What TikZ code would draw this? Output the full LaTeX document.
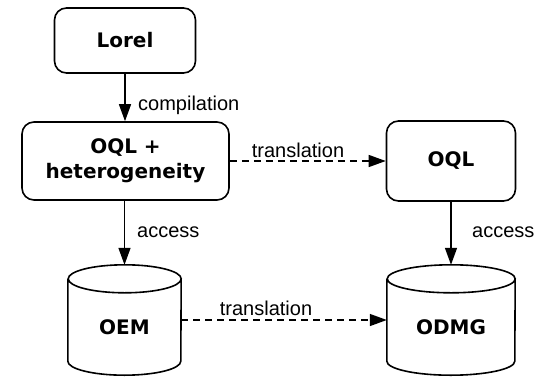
\documentclass[tikz,border=0pt]{standalone}
\usepackage{fontspec}
\setmainfont{Liberation Sans}
\newfontfamily\boxfont{DejaVu Sans}
\usetikzlibrary{arrows.meta}

\begin{document}
\begin{tikzpicture}[x=1pt,y=-1pt,
  box/.style={draw, line width=1.6pt, rounded corners=12pt, align=center, inner sep=0pt,
    font=\boxfont\bfseries\fontsize{20}{25}\selectfont},
  store/.style={inner sep=0pt, minimum height=96pt,
    font=\boxfont\bfseries\fontsize{20}{25}\selectfont},
  lbl/.style={inner sep=0pt, font=\fontsize{20}{24}\selectfont},
  flow/.style={line width=1.4pt, -{Triangle[length=17pt,width=12pt]}},
  xlate/.style={flow, dash pattern=on 7pt off 5pt},
  cyl/.style={line width=1.6pt}]
\useasboundingbox (0,0) rectangle (550,376);

% query levels
\node[box, minimum width=141pt, minimum height=65pt] (lorel) at (125,40.5) {Lorel};
\node[box, minimum width=207pt, minimum height=78pt] (oqlh) at (125.5,161) {OQL +\\heterogeneity};
\node[box, minimum width=129pt, minimum height=80pt] (oql) at (451,161) {OQL};

% data stores (cylinders drawn around the text nodes)
\node[store, minimum width=113pt] (oem) at (124.5,327) {OEM};
\node[store, minimum width=128pt] (odmg) at (451,327) {ODMG};
\foreach \n/\r in {oem/56.5, odmg/64} {
  \draw[cyl] (\n.north west) -- ([yshift=14pt]\n.south west)
    arc[start angle=180, end angle=360, x radius=\r pt, y radius=14pt]
    -- (\n.north east)
    arc[start angle=0, end angle=360, x radius=\r pt, y radius=14pt];
}
\coordinate (oemtop) at ([yshift=14pt]oem.north);
\coordinate (odmgtop) at ([yshift=14pt]odmg.north);

% connectors
\draw[flow] (lorel.south) -- (lorel.south |- oqlh.north);
\draw[flow] (oqlh.south -| oemtop) -- (oemtop);
\draw[flow] (oql.south -| odmgtop) -- (odmgtop);
\draw[xlate] (oqlh.east) -- (oql.west);
\draw[xlate] ([yshift=7pt]oem.east) -- ([yshift=7pt]odmg.west);

% connector labels
\node[lbl, anchor=base west] (lcomp) at (138,110) {compilation};
\node[lbl, anchor=base west] (lacc1) at (137,237) {access};
\node[lbl, anchor=base west] (lacc2) at (472,237) {access};
\node[lbl, anchor=base] (ltr1) at (298,157) {translation};
\node[lbl, anchor=base] (ltr2) at (266,315) {translation};
\end{tikzpicture}
\end{document}
